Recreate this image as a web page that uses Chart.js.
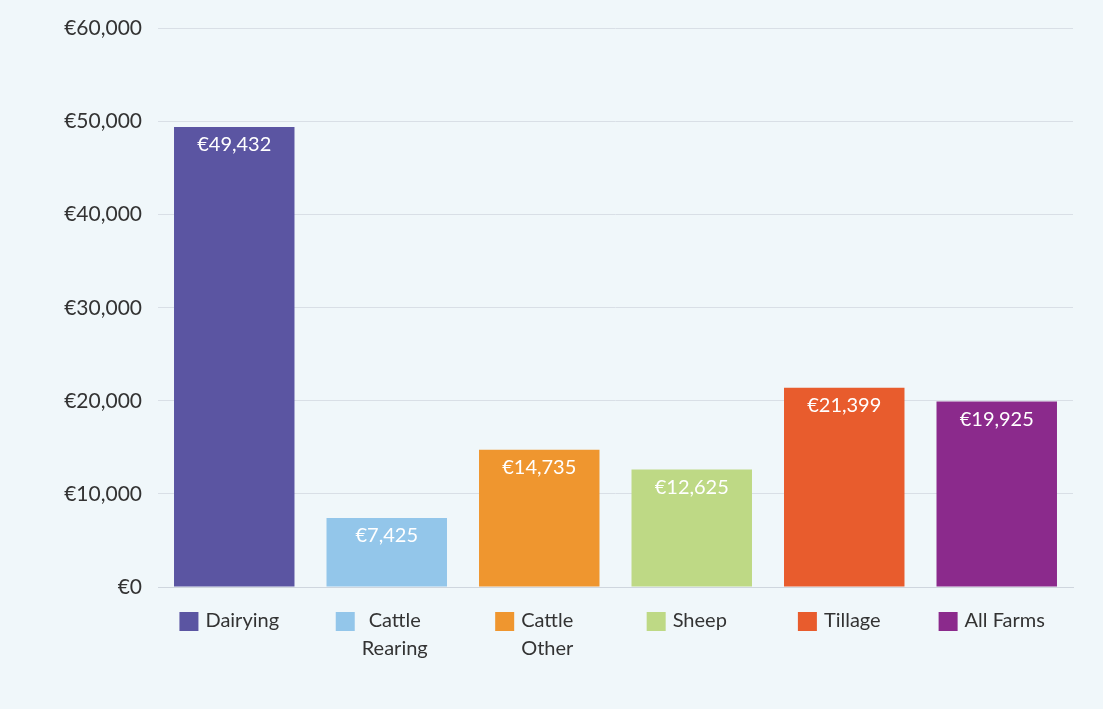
<!DOCTYPE html>
<html>
<head>
<meta charset="utf-8">
<script src="https://cdn.jsdelivr.net/npm/chart.js@4"></script>
<style>
  html, body { margin: 0; padding: 0; background: #f0f7fa; }
  #wrap { width: 1103px; height: 709px; }
</style>
</head>
<body>
<div id="wrap"><canvas id="c" width="1103" height="709"></canvas></div>
<script>
// data
const categories = [['Dairying'], ['Cattle', 'Rearing'], ['Cattle', 'Other'], ['Sheep'], ['Tillage'], ['All Farms']];
const values = [49432, 7425, 14735, 12625, 21399, 19925];
const colours = ['#5b55a2', '#93c6ea', '#ef962f', '#bed985', '#e85c2d', '#8b2a8c'];
const yTicks = [0, 10000, 20000, 30000, 40000, 50000, 60000];

const FONT = 'Lato, "Open Sans", sans-serif';
const euro = (v) => '€' + v.toLocaleString('en-US');

// white value labels inside top of bars + legend-style category labels under bars
const labelPlugin = {
  id: 'labels',
  afterDatasetsDraw(chart) {
    const ctx = chart.ctx;
    const meta = chart.getDatasetMeta(0);
    const xs = chart.scales.x;
    ctx.save();
    ctx.font = '20px ' + FONT;
    ctx.textAlign = 'center';
    ctx.textBaseline = 'middle';
    ctx.fillStyle = '#ffffff';
    meta.data.forEach((bar, i) => {
      ctx.fillText(euro(values[i]), bar.x, bar.y + 18);
    });

    // category labels
    ctx.font = '20px ' + FONT;
    ctx.textBaseline = 'middle';
    categories.forEach((lines, i) => {
      const cx = xs.getPixelForValue(i);
      const tw = Math.max(...lines.map((l) => ctx.measureText(l).width));
      const total = 19 + 7 + tw;
      const left = cx - 5 - total / 2;
      const y0 = chart.chartArea.bottom + 34;
      ctx.fillStyle = colours[i];
      ctx.fillRect(left, y0 - 9, 19, 19);
      ctx.fillStyle = '#333333';
      ctx.textAlign = 'center';
      lines.forEach((l, k) => {
        ctx.fillText(l, left + 26 + tw / 2, y0 + k * 28);
      });
    });
    ctx.restore();
  },
};

new Chart(document.getElementById('c'), {
  type: 'bar',
  data: {
    labels: categories.map((l) => l.join(' ')),
    datasets: [{
      data: values,
      backgroundColor: colours,
      categoryPercentage: 0.79,
      barPercentage: 1,
    }],
  },
  options: {
    responsive: false,
    animation: false,
    layout: { padding: { top: 21, bottom: 114, left: 0, right: 30 } },
    plugins: { legend: { display: false }, tooltip: { enabled: false } },
    scales: {
      x: {
        ticks: { display: false },
        grid: { display: false },
        border: { color: '#cfd6de' },
      },
      y: {
        min: 0,
        max: 60000,
        afterBuildTicks: (s) => { s.ticks = yTicks.map((v) => ({ value: v })); },
        afterFit: (s) => { s.width = 158; },
        ticks: {
          callback: (v) => euro(v),
          color: '#333333',
          font: { family: FONT, size: 21 },
          padding: 16,
        },
        grid: { color: '#d9dfe6', drawTicks: false },
        border: { display: false },
      },
    },
  },
  plugins: [labelPlugin],
});
</script>
</body>
</html>
